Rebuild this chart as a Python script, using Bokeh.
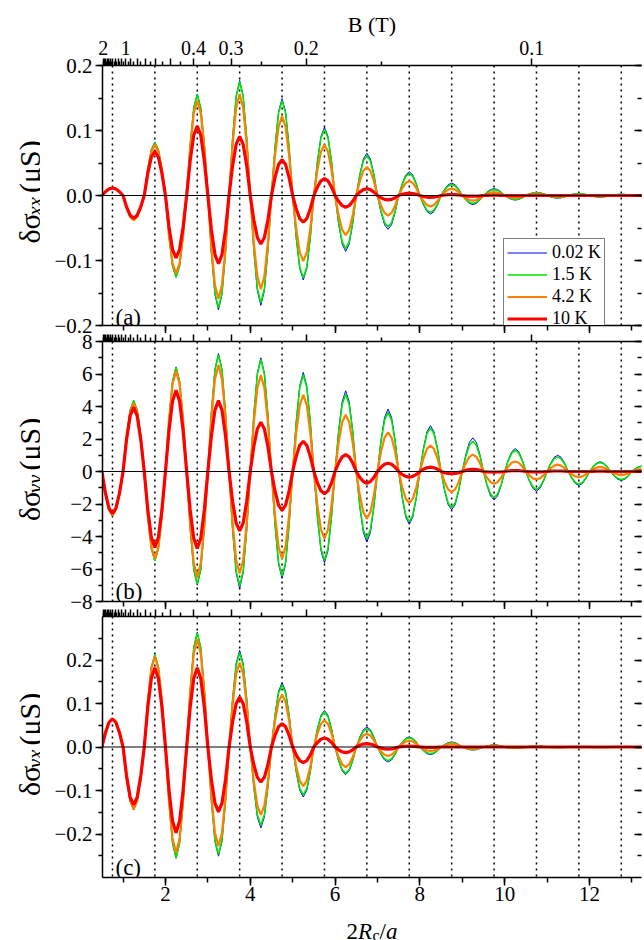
import numpy as np
from bokeh.plotting import figure
from bokeh.models import (Range1d, LinearAxis, SingleIntervalTicker, FixedTicker,
                          CustomJSTickFormatter, CustomLabelingPolicy, Span, Label,
                          Legend, LegendItem, Grid)
from bokeh.layouts import column, row
from bokeh.embed import file_html
from bokeh.resources import INLINE

FONT = "Liberation Serif"

# ---------------- data ----------------
x_grid = [0.5,
 0.583, 0.667, 0.75, 0.833, 0.917, 1.0,
 1.083, 1.167, 1.25, 1.333, 1.417, 1.5,
 1.583, 1.667, 1.75, 1.833, 1.917, 2.0,
 2.083, 2.167, 2.25, 2.333, 2.417, 2.5,
 2.583, 2.667, 2.75, 2.833, 2.917, 3.0,
 3.083, 3.167, 3.25, 3.333, 3.417, 3.5,
 3.583, 3.667, 3.75, 3.833, 3.917, 4.0,
 4.083, 4.167, 4.25, 4.333, 4.417, 4.5,
 4.583, 4.667, 4.75, 4.833, 4.917, 5.0,
 5.083, 5.167, 5.25, 5.333, 5.417, 5.5,
 5.583, 5.667, 5.75, 5.833, 5.917, 6.0,
 6.083, 6.167, 6.25, 6.333, 6.417, 6.5,
 6.583, 6.667, 6.75, 6.833, 6.917, 7.0,
 7.083, 7.167, 7.25, 7.333, 7.417, 7.5,
 7.583, 7.667, 7.75, 7.833, 7.917, 8.0,
 8.083, 8.167, 8.25, 8.333, 8.417, 8.5,
 8.583, 8.667, 8.75, 8.833, 8.917, 9.0,
 9.083, 9.167, 9.25, 9.333, 9.417, 9.5,
 9.583, 9.667, 9.75, 9.833, 9.917, 10.0,
 10.083, 10.167, 10.25, 10.333, 10.417, 10.5,
 10.583, 10.667, 10.75, 10.833, 10.917, 11.0,
 11.083, 11.167, 11.25, 11.333, 11.417, 11.5,
 11.583, 11.667, 11.75, 11.833, 11.917, 12.0,
 12.083, 12.167, 12.25, 12.333, 12.417, 12.5,
 12.583, 12.667, 12.75, 12.833, 12.917, 13.0,
 13.083, 13.167, 13.25]

temps = ["0.02 K", "1.5 K", "4.2 K", "10 K"]

# panel (a): delta sigma_xx (uS)
sxx_002 = [0.0,
 0.0055, 0.0095, 0.011, 0.0095, 0.0055, 0.0,
 -0.0185, -0.032, -0.037, -0.032, -0.0185, 0.0,
 0.041, 0.071, 0.082, 0.071, 0.041, 0.0,
 -0.063, -0.1091, -0.126, -0.1091, -0.063, 0.0,
 0.078, 0.1351, 0.156, 0.1351, 0.078, 0.0,
 -0.088, -0.1524, -0.176, -0.1524, -0.088, 0.0,
 0.0885, 0.1533, 0.177, 0.1533, 0.0885, 0.0,
 -0.0845, -0.1464, -0.169, -0.1464, -0.0845, 0.0,
 0.0745, 0.129, 0.149, 0.129, 0.0745, 0.0,
 -0.065, -0.1126, -0.130, -0.1126, -0.065, 0.0,
 0.0525, 0.0909, 0.105, 0.0909, 0.0525, 0.0,
 -0.043, -0.0745, -0.086, -0.0745, -0.043, 0.0,
 0.0325, 0.0563, 0.065, 0.0563, 0.0325, 0.0,
 -0.026, -0.045, -0.052, -0.045, -0.026, 0.0,
 0.0183, 0.0316, 0.0365, 0.0316, 0.0183, 0.0,
 -0.0143, -0.0247, -0.0285, -0.0247, -0.0143, 0.0,
 0.0095, 0.0165, 0.019, 0.0165, 0.0095, 0.0,
 -0.007, -0.0121, -0.014, -0.0121, -0.007, 0.0,
 0.0053, 0.0091, 0.0105, 0.0091, 0.0053, 0.0,
 -0.0035, -0.0061, -0.007, -0.0061, -0.0035, 0.0,
 0.0025, 0.0043, 0.005, 0.0043, 0.0025, 0.0,
 -0.002, -0.0035, -0.004, -0.0035, -0.002, 0.0,
 0.0015, 0.0026, 0.003, 0.0026, 0.0015, 0.0,
 -0.0013, -0.0022, -0.0025, -0.0022, -0.0013, 0.0,
 0.001, 0.0017, 0.002, 0.0017, 0.001, 0.0,
 -0.0008, -0.0013, -0.0015]
sxx_15 = [0.0,
 0.0058, 0.01, 0.0115, 0.01, 0.0058, 0.0,
 -0.019, -0.0329, -0.038, -0.0329, -0.019, 0.0,
 0.0405, 0.0701, 0.081, 0.0701, 0.0405, 0.0,
 -0.0625, -0.1083, -0.125, -0.1083, -0.0625, 0.0,
 0.0775, 0.1342, 0.155, 0.1342, 0.0775, 0.0,
 -0.0865, -0.1498, -0.173, -0.1498, -0.0865, 0.0,
 0.0875, 0.1516, 0.175, 0.1516, 0.0875, 0.0,
 -0.0825, -0.1429, -0.165, -0.1429, -0.0825, 0.0,
 0.073, 0.1264, 0.146, 0.1264, 0.073, 0.0,
 -0.0635, -0.11, -0.127, -0.11, -0.0635, 0.0,
 0.051, 0.0883, 0.102, 0.0883, 0.051, 0.0,
 -0.041, -0.071, -0.082, -0.071, -0.041, 0.0,
 0.0308, 0.0533, 0.0615, 0.0533, 0.0308, 0.0,
 -0.024, -0.0416, -0.048, -0.0416, -0.024, 0.0,
 0.017, 0.0294, 0.034, 0.0294, 0.017, 0.0,
 -0.013, -0.0225, -0.026, -0.0225, -0.013, 0.0,
 0.0085, 0.0147, 0.017, 0.0147, 0.0085, 0.0,
 -0.006, -0.0104, -0.012, -0.0104, -0.006, 0.0,
 0.0045, 0.0078, 0.009, 0.0078, 0.0045, 0.0,
 -0.003, -0.0052, -0.006, -0.0052, -0.003, 0.0,
 0.0023, 0.0039, 0.0045, 0.0039, 0.0023, 0.0,
 -0.0018, -0.003, -0.0035, -0.003, -0.0018, 0.0,
 0.0013, 0.0022, 0.0025, 0.0022, 0.0013, 0.0,
 -0.001, -0.0017, -0.002, -0.0017, -0.001, 0.0,
 0.0008, 0.0013, 0.0015, 0.0013, 0.0008, 0.0,
 -0.0005, -0.0009, -0.001]
sxx_42 = [0.0,
 0.0058, 0.01, 0.0115, 0.01, 0.0058, 0.0,
 -0.019, -0.0329, -0.038, -0.0329, -0.019, 0.0,
 0.039, 0.0675, 0.078, 0.0675, 0.039, 0.0,
 -0.06, -0.1039, -0.120, -0.1039, -0.06, 0.0,
 0.073, 0.1264, 0.146, 0.1264, 0.073, 0.0,
 -0.0795, -0.1377, -0.159, -0.1377, -0.0795, 0.0,
 0.078, 0.1351, 0.156, 0.1351, 0.078, 0.0,
 -0.072, -0.1247, -0.144, -0.1247, -0.072, 0.0,
 0.061, 0.1057, 0.122, 0.1057, 0.061, 0.0,
 -0.0505, -0.0875, -0.101, -0.0875, -0.0505, 0.0,
 0.039, 0.0675, 0.078, 0.0675, 0.039, 0.0,
 -0.0305, -0.0528, -0.061, -0.0528, -0.0305, 0.0,
 0.022, 0.0381, 0.044, 0.0381, 0.022, 0.0,
 -0.0155, -0.0268, -0.031, -0.0268, -0.0155, 0.0,
 0.0112, 0.0194, 0.0224, 0.0194, 0.0112, 0.0,
 -0.0085, -0.0147, -0.017, -0.0147, -0.0085, 0.0,
 0.0052, 0.009, 0.0104, 0.009, 0.0052, 0.0,
 -0.004, -0.0069, -0.008, -0.0069, -0.004, 0.0,
 0.0025, 0.0043, 0.005, 0.0043, 0.0025, 0.0,
 -0.0018, -0.003, -0.0035, -0.003, -0.0018, 0.0,
 0.0013, 0.0022, 0.0025, 0.0022, 0.0013, 0.0,
 -0.0008, -0.0013, -0.0015, -0.0013, -0.0008, 0.0,
 0.0005, 0.0009, 0.001, 0.0009, 0.0005, 0.0,
 -0.0004, -0.0006, -0.0007, -0.0006, -0.0004, 0.0,
 0.0003, 0.0004, 0.0005, 0.0004, 0.0003, 0.0,
 -0.0002, -0.0003, -0.0003]
sxx_10 = [0.0,
 0.0058, 0.01, 0.0115, 0.01, 0.0058, 0.0,
 -0.0175, -0.0303, -0.035, -0.0303, -0.0175, 0.0,
 0.034, 0.0589, 0.068, 0.0589, 0.034, 0.0,
 -0.048, -0.0831, -0.096, -0.0831, -0.048, 0.0,
 0.0535, 0.0927, 0.107, 0.0927, 0.0535, 0.0,
 -0.0525, -0.0909, -0.105, -0.0909, -0.0525, 0.0,
 0.0455, 0.0788, 0.091, 0.0788, 0.0455, 0.0,
 -0.0373, -0.0645, -0.0745, -0.0645, -0.0373, 0.0,
 0.0275, 0.0476, 0.055, 0.0476, 0.0275, 0.0,
 -0.0205, -0.0355, -0.041, -0.0355, -0.0205, 0.0,
 0.013, 0.0225, 0.026, 0.0225, 0.013, 0.0,
 -0.009, -0.0156, -0.018, -0.0156, -0.009, 0.0,
 0.0052, 0.009, 0.0104, 0.009, 0.0052, 0.0,
 -0.0034, -0.0059, -0.0068, -0.0059, -0.0034, 0.0,
 0.0018, 0.0031, 0.0036, 0.0031, 0.0018, 0.0,
 -0.0015, -0.0026, -0.003, -0.0026, -0.0015, 0.0,
 0.0008, 0.0013, 0.0015, 0.0013, 0.0008, 0.0,
 -0.0005, -0.0009, -0.001, -0.0009, -0.0005, 0.0,
 0.0003, 0.0004, 0.0005, 0.0004, 0.0003, 0.0,
 -0.0002, -0.0003, -0.0003, -0.0003, -0.0002, 0.0,
 0.0001, 0.0002, 0.0002, 0.0002, 0.0001, 0.0,
 0.0, 0.0, 0.0, 0.0, 0.0, 0.0,
 0.0, 0.0, 0.0, 0.0, 0.0, 0.0,
 0.0, 0.0, 0.0, 0.0, 0.0, 0.0,
 0.0, 0.0, 0.0, 0.0, 0.0, 0.0,
 0.0, 0.0, 0.0]

# panel (b): delta sigma_yy (uS)
syy_002 = [0.0,
 -1.35, -2.34, -2.7, -2.34, -1.35, 0.0,
 2.18, 3.78, 4.36, 3.78, 2.18, 0.0,
 -2.75, -4.76, -5.5, -4.76, -2.75, 0.0,
 3.22, 5.58, 6.44, 5.58, 3.22, 0.0,
 -3.5, -6.06, -7.0, -6.06, -3.5, 0.0,
 3.63, 6.29, 7.26, 6.29, 3.63, 0.0,
 -3.6, -6.24, -7.2, -6.24, -3.6, 0.0,
 3.5, 6.06, 7.0, 6.06, 3.5, 0.0,
 -3.29, -5.7, -6.58, -5.7, -3.29, 0.0,
 3.05, 5.28, 6.1, 5.28, 3.05, 0.0,
 -2.81, -4.87, -5.62, -4.87, -2.81, 0.0,
 2.49, 4.3, 4.97, 4.3, 2.49, 0.0,
 -2.17, -3.76, -4.34, -3.76, -2.17, 0.0,
 1.92, 3.33, 3.84, 3.33, 1.92, 0.0,
 -1.63, -2.81, -3.25, -2.81, -1.63, 0.0,
 1.41, 2.44, 2.82, 2.44, 1.41, 0.0,
 -1.18, -2.04, -2.35, -2.04, -1.18, 0.0,
 1.04, 1.79, 2.07, 1.79, 1.04, 0.0,
 -0.87, -1.51, -1.74, -1.51, -0.87, 0.0,
 0.71, 1.22, 1.41, 1.22, 0.71, 0.0,
 -0.6, -1.04, -1.2, -1.04, -0.6, 0.0,
 0.5, 0.87, 1.0, 0.87, 0.5, 0.0,
 -0.43, -0.74, -0.85, -0.74, -0.43, 0.0,
 0.3, 0.52, 0.6, 0.52, 0.3, 0.0,
 -0.28, -0.48, -0.55, -0.48, -0.28, 0.0,
 0.18, 0.3, 0.35]
syy_15 = [0.0,
 -1.35, -2.34, -2.7, -2.34, -1.35, 0.0,
 2.18, 3.78, 4.36, 3.78, 2.18, 0.0,
 -2.75, -4.76, -5.5, -4.76, -2.75, 0.0,
 3.2, 5.54, 6.4, 5.54, 3.2, 0.0,
 -3.47, -6.0, -6.93, -6.0, -3.47, 0.0,
 3.59, 6.22, 7.18, 6.22, 3.59, 0.0,
 -3.53, -6.11, -7.05, -6.11, -3.53, 0.0,
 3.45, 5.98, 6.9, 5.98, 3.45, 0.0,
 -3.22, -5.58, -6.44, -5.58, -3.22, 0.0,
 2.98, 5.15, 5.95, 5.15, 2.98, 0.0,
 -2.73, -4.73, -5.46, -4.73, -2.73, 0.0,
 2.38, 4.12, 4.76, 4.12, 2.38, 0.0,
 -2.07, -3.58, -4.13, -3.58, -2.07, 0.0,
 1.82, 3.15, 3.64, 3.15, 1.82, 0.0,
 -1.55, -2.68, -3.1, -2.68, -1.55, 0.0,
 1.34, 2.32, 2.68, 2.32, 1.34, 0.0,
 -1.12, -1.93, -2.23, -1.93, -1.12, 0.0,
 0.93, 1.61, 1.86, 1.61, 0.93, 0.0,
 -0.8, -1.39, -1.6, -1.39, -0.8, 0.0,
 0.65, 1.13, 1.3, 1.13, 0.65, 0.0,
 -0.55, -0.95, -1.1, -0.95, -0.55, 0.0,
 0.45, 0.78, 0.9, 0.78, 0.45, 0.0,
 -0.39, -0.68, -0.78, -0.68, -0.39, 0.0,
 0.28, 0.48, 0.55, 0.48, 0.28, 0.0,
 -0.25, -0.43, -0.5, -0.43, -0.25, 0.0,
 0.16, 0.28, 0.32]
syy_42 = [0.0,
 -1.35, -2.34, -2.7, -2.34, -1.35, 0.0,
 2.1, 3.64, 4.2, 3.64, 2.1, 0.0,
 -2.68, -4.64, -5.36, -4.64, -2.68, 0.0,
 3.1, 5.37, 6.2, 5.37, 3.1, 0.0,
 -3.25, -5.63, -6.5, -5.63, -3.25, 0.0,
 3.28, 5.68, 6.56, 5.68, 3.28, 0.0,
 -3.14, -5.44, -6.28, -5.44, -3.14, 0.0,
 2.97, 5.14, 5.93, 5.14, 2.97, 0.0,
 -2.68, -4.64, -5.36, -4.64, -2.68, 0.0,
 2.36, 4.09, 4.72, 4.09, 2.36, 0.0,
 -2.07, -3.58, -4.13, -3.58, -2.07, 0.0,
 1.75, 3.03, 3.5, 3.03, 1.75, 0.0,
 -1.45, -2.51, -2.9, -2.51, -1.45, 0.0,
 1.21, 2.09, 2.41, 2.09, 1.21, 0.0,
 -0.97, -1.68, -1.94, -1.68, -0.97, 0.0,
 0.8, 1.39, 1.6, 1.39, 0.8, 0.0,
 -0.64, -1.1, -1.27, -1.1, -0.64, 0.0,
 0.52, 0.9, 1.04, 0.9, 0.52, 0.0,
 -0.38, -0.66, -0.76, -0.66, -0.38, 0.0,
 0.31, 0.54, 0.62, 0.54, 0.31, 0.0,
 -0.24, -0.42, -0.48, -0.42, -0.24, 0.0,
 0.21, 0.36, 0.42, 0.36, 0.21, 0.0,
 -0.18, -0.3, -0.35, -0.3, -0.18, 0.0,
 0.14, 0.24, 0.28, 0.24, 0.14, 0.0,
 -0.11, -0.19, -0.22, -0.19, -0.11, 0.0,
 0.08, 0.13, 0.15]
syy_10 = [0.0,
 -1.3, -2.25, -2.6, -2.25, -1.3, 0.0,
 1.98, 3.42, 3.95, 3.42, 1.98, 0.0,
 -2.34, -4.05, -4.68, -4.05, -2.34, 0.0,
 2.5, 4.33, 5.0, 4.33, 2.5, 0.0,
 -2.37, -4.1, -4.74, -4.1, -2.37, 0.0,
 2.18, 3.78, 4.36, 3.78, 2.18, 0.0,
 -1.83, -3.17, -3.66, -3.17, -1.83, 0.0,
 1.52, 2.62, 3.03, 2.62, 1.52, 0.0,
 -1.2, -2.07, -2.39, -2.07, -1.2, 0.0,
 0.93, 1.61, 1.86, 1.61, 0.93, 0.0,
 -0.69, -1.19, -1.37, -1.19, -0.69, 0.0,
 0.52, 0.9, 1.04, 0.9, 0.52, 0.0,
 -0.36, -0.62, -0.72, -0.62, -0.36, 0.0,
 0.26, 0.44, 0.51, 0.44, 0.26, 0.0,
 -0.18, -0.3, -0.35, -0.3, -0.18, 0.0,
 0.14, 0.23, 0.27, 0.23, 0.14, 0.0,
 -0.07, -0.12, -0.14, -0.12, -0.07, 0.0,
 0.07, 0.12, 0.14, 0.12, 0.07, 0.0,
 -0.02, -0.03, -0.04, -0.03, -0.02, 0.0,
 0.03, 0.05, 0.06, 0.05, 0.03, 0.0,
 -0.01, -0.02, -0.02, -0.02, -0.01, 0.0,
 0.02, 0.03, 0.03, 0.03, 0.02, 0.0,
 0.0, 0.0, 0.0, 0.0, 0.0, 0.0,
 0.01, 0.02, 0.02, 0.02, 0.01, 0.0,
 0.0, 0.0, 0.0, 0.0, 0.0, 0.0,
 0.01, 0.01, 0.01]

# panel (c): delta sigma_yx (uS)
syx_002 = [0.0,
 0.0325, 0.0563, 0.065, 0.0563, 0.0325, 0.0,
 -0.0725, -0.1256, -0.145, -0.1256, -0.0725, 0.0,
 0.106, 0.1836, 0.212, 0.1836, 0.106, 0.0,
 -0.128, -0.2217, -0.256, -0.2217, -0.128, 0.0,
 0.132, 0.2286, 0.264, 0.2286, 0.132, 0.0,
 -0.1255, -0.2174, -0.251, -0.2174, -0.1255, 0.0,
 0.111, 0.1923, 0.222, 0.1923, 0.111, 0.0,
 -0.093, -0.1611, -0.186, -0.1611, -0.093, 0.0,
 0.074, 0.1282, 0.148, 0.1282, 0.074, 0.0,
 -0.0575, -0.0996, -0.115, -0.0996, -0.0575, 0.0,
 0.042, 0.0727, 0.084, 0.0727, 0.042, 0.0,
 -0.0318, -0.0551, -0.0636, -0.0551, -0.0318, 0.0,
 0.023, 0.0398, 0.046, 0.0398, 0.023, 0.0,
 -0.0173, -0.0299, -0.0345, -0.0299, -0.0173, 0.0,
 0.0115, 0.0199, 0.023, 0.0199, 0.0115, 0.0,
 -0.0088, -0.0152, -0.0176, -0.0152, -0.0088, 0.0,
 0.0058, 0.01, 0.0115, 0.01, 0.0058, 0.0,
 -0.0035, -0.0061, -0.007, -0.0061, -0.0035, 0.0,
 0.0025, 0.0043, 0.005, 0.0043, 0.0025, 0.0,
 -0.0018, -0.003, -0.0035, -0.003, -0.0018, 0.0,
 0.0013, 0.0022, 0.0025, 0.0022, 0.0013, 0.0,
 -0.0008, -0.0013, -0.0015, -0.0013, -0.0008, 0.0,
 0.0005, 0.0009, 0.001, 0.0009, 0.0005, 0.0,
 -0.0004, -0.0006, -0.0007, -0.0006, -0.0004, 0.0,
 0.0003, 0.0004, 0.0005, 0.0004, 0.0003, 0.0,
 -0.0002, -0.0003, -0.0003]
syx_15 = [0.0,
 0.0325, 0.0563, 0.065, 0.0563, 0.0325, 0.0,
 -0.0715, -0.1238, -0.143, -0.1238, -0.0715, 0.0,
 0.106, 0.1836, 0.212, 0.1836, 0.106, 0.0,
 -0.1275, -0.2208, -0.255, -0.2208, -0.1275, 0.0,
 0.131, 0.2269, 0.262, 0.2269, 0.131, 0.0,
 -0.1235, -0.2139, -0.247, -0.2139, -0.1235, 0.0,
 0.1085, 0.1879, 0.217, 0.1879, 0.1085, 0.0,
 -0.09, -0.1559, -0.18, -0.1559, -0.09, 0.0,
 0.0715, 0.1238, 0.143, 0.1238, 0.0715, 0.0,
 -0.055, -0.0953, -0.11, -0.0953, -0.055, 0.0,
 0.0403, 0.0697, 0.0805, 0.0697, 0.0403, 0.0,
 -0.0303, -0.0524, -0.0605, -0.0524, -0.0303, 0.0,
 0.021, 0.0364, 0.042, 0.0364, 0.021, 0.0,
 -0.0157, -0.0272, -0.0314, -0.0272, -0.0157, 0.0,
 0.0105, 0.0182, 0.021, 0.0182, 0.0105, 0.0,
 -0.0077, -0.0132, -0.0153, -0.0132, -0.0077, 0.0,
 0.005, 0.0087, 0.01, 0.0087, 0.005, 0.0,
 -0.003, -0.0052, -0.006, -0.0052, -0.003, 0.0,
 0.002, 0.0035, 0.004, 0.0035, 0.002, 0.0,
 -0.0015, -0.0026, -0.003, -0.0026, -0.0015, 0.0,
 0.001, 0.0017, 0.002, 0.0017, 0.001, 0.0,
 -0.0005, -0.0009, -0.001, -0.0009, -0.0005, 0.0,
 0.0004, 0.0006, 0.0007, 0.0006, 0.0004, 0.0,
 -0.0003, -0.0004, -0.0005, -0.0004, -0.0003, 0.0,
 0.0002, 0.0003, 0.0003, 0.0003, 0.0002, 0.0,
 -0.0001, -0.0002, -0.0002]
syx_42 = [0.0,
 0.0325, 0.0563, 0.065, 0.0563, 0.0325, 0.0,
 -0.0715, -0.1238, -0.143, -0.1238, -0.0715, 0.0,
 0.104, 0.1801, 0.208, 0.1801, 0.104, 0.0,
 -0.1215, -0.2104, -0.243, -0.2104, -0.1215, 0.0,
 0.1238, 0.2143, 0.2475, 0.2143, 0.1238, 0.0,
 -0.1138, -0.197, -0.2275, -0.197, -0.1138, 0.0,
 0.097, 0.168, 0.194, 0.168, 0.097, 0.0,
 -0.078, -0.1351, -0.156, -0.1351, -0.078, 0.0,
 0.06, 0.1039, 0.12, 0.1039, 0.06, 0.0,
 -0.0449, -0.0777, -0.0897, -0.0777, -0.0449, 0.0,
 0.0307, 0.0531, 0.0613, 0.0531, 0.0307, 0.0,
 -0.023, -0.0398, -0.046, -0.0398, -0.023, 0.0,
 0.0153, 0.0265, 0.0306, 0.0265, 0.0153, 0.0,
 -0.0104, -0.0179, -0.0207, -0.0179, -0.0104, 0.0,
 0.0073, 0.0126, 0.0146, 0.0126, 0.0073, 0.0,
 -0.0046, -0.008, -0.0092, -0.008, -0.0046, 0.0,
 0.0035, 0.0061, 0.007, 0.0061, 0.0035, 0.0,
 -0.002, -0.0035, -0.004, -0.0035, -0.002, 0.0,
 0.0013, 0.0022, 0.0025, 0.0022, 0.0013, 0.0,
 -0.0008, -0.0013, -0.0015, -0.0013, -0.0008, 0.0,
 0.0005, 0.0009, 0.001, 0.0009, 0.0005, 0.0,
 -0.0003, -0.0004, -0.0005, -0.0004, -0.0003, 0.0,
 0.0002, 0.0003, 0.0003, 0.0003, 0.0002, 0.0,
 -0.0001, -0.0002, -0.0002, -0.0002, -0.0001, 0.0,
 0.0001, 0.0001, 0.0001, 0.0001, 0.0001, 0.0,
 0.0, 0.0, 0.0]
syx_10 = [0.0,
 0.0325, 0.0563, 0.065, 0.0563, 0.0325, 0.0,
 -0.0665, -0.1152, -0.133, -0.1152, -0.0665, 0.0,
 0.091, 0.1576, 0.182, 0.1576, 0.091, 0.0,
 -0.0985, -0.1706, -0.197, -0.1706, -0.0985, 0.0,
 0.091, 0.1576, 0.182, 0.1576, 0.091, 0.0,
 -0.0745, -0.129, -0.149, -0.129, -0.0745, 0.0,
 0.0575, 0.0996, 0.115, 0.0996, 0.0575, 0.0,
 -0.0403, -0.0697, -0.0805, -0.0697, -0.0403, 0.0,
 0.0268, 0.0464, 0.0536, 0.0464, 0.0268, 0.0,
 -0.018, -0.0312, -0.036, -0.0312, -0.018, 0.0,
 0.0104, 0.0179, 0.0207, 0.0179, 0.0104, 0.0,
 -0.0065, -0.0113, -0.013, -0.0113, -0.0065, 0.0,
 0.0039, 0.0067, 0.0077, 0.0067, 0.0039, 0.0,
 -0.0025, -0.0043, -0.005, -0.0043, -0.0025, 0.0,
 0.001, 0.0017, 0.002, 0.0017, 0.001, 0.0,
 -0.0005, -0.0009, -0.001, -0.0009, -0.0005, 0.0,
 0.0, 0.0, 0.0, 0.0, 0.0, 0.0,
 0.0, 0.0, 0.0, 0.0, 0.0, 0.0,
 0.0, 0.0, 0.0, 0.0, 0.0, 0.0,
 0.0, 0.0, 0.0, 0.0, 0.0, 0.0,
 0.0, 0.0, 0.0, 0.0, 0.0, 0.0,
 0.0, 0.0, 0.0, 0.0, 0.0, 0.0,
 0.0, 0.0, 0.0, 0.0, 0.0, 0.0,
 0.0, 0.0, 0.0, 0.0, 0.0, 0.0,
 0.0, 0.0, 0.0, 0.0, 0.0, 0.0,
 0.0, 0.0, 0.0]

dotted_x = [0.75, 1.75, 2.75, 3.75, 4.75, 5.75, 6.75, 7.75, 8.75, 9.75, 10.75, 11.75, 12.75]

# top axis: magnetic field B (T); B * (2Rc/a) = const
B_CONST = 1.064
B_major = [0.1, 0.2, 0.3, 0.4, 0.5, 0.6, 0.7, 0.8, 0.9, 1.0,
           1.1, 1.2, 1.3, 1.4, 1.5, 1.6, 1.7, 1.8, 1.9, 2.0]
B_minor = [0.15, 0.25, 0.35, 0.45, 0.55, 0.65, 0.75, 0.85, 0.95, 1.05,
           1.15, 1.25, 1.35, 1.45, 1.55, 1.65, 1.75, 1.85, 1.95]
B_labels = [2, 1, 0.4, 0.3, 0.2, 0.1]

colors = ["#0000ff", "#00e600", "#ff8000", "#ff0000"]
widths = [1.0, 1.6, 2.2, 3.2]

# ---------------- layout constants (page px) ----------------
XS, XE = 0.515, 13.227
LW = 40            # left strip with the rotated y titles
W = 644 - LW       # main figures
BL, BR = 62, 3     # frame from x=102 to x=641
HA, HB, HC = 333, 276, 301
BOT_H = 940 - (HA + HB + HC)

xr = Range1d(XS, XE)


def no_grid(p):
    for r in list(p.center):
        if isinstance(r, Grid):
            r.visible = False


def make_fig(h, top, bottom, lo, hi):
    p = figure(width=W, height=h, x_range=xr, y_range=Range1d(lo, hi),
               output_backend="svg", toolbar_location=None,
               x_axis_location=None, y_axis_location=None,
               min_border_left=BL, min_border_right=BR,
               min_border_top=top, min_border_bottom=bottom)
    p.outline_line_color = None
    p.background_fill_color = "white"
    p.border_fill_color = "white"
    no_grid(p)
    return p


def text_fig(w, h):
    f = figure(width=w, height=h, x_range=Range1d(0, w), y_range=Range1d(0, h),
               output_backend="svg", toolbar_location=None,
               x_axis_location=None, y_axis_location=None,
               min_border=0, min_border_left=0, min_border_right=0,
               min_border_top=0, min_border_bottom=0)
    f.outline_line_color = None
    f.background_fill_color = "white"
    f.border_fill_color = "white"
    no_grid(f)
    return f


def hide_labels(ax):
    ax.formatter = CustomJSTickFormatter(code='return ""')
    ax.major_label_policy = CustomLabelingPolicy(
        code="for (const i of indices) { indices.unset(i) }\nreturn indices")
    ax.major_label_text_font_size = "1px"
    ax.major_label_standoff = 0


def style(ax, size="21px"):
    ax.axis_line_width = 1.5
    ax.axis_line_color = "black"
    ax.major_tick_line_width = 1.5
    ax.minor_tick_line_width = 1.5
    ax.major_tick_line_color = "black"
    ax.minor_tick_line_color = "black"
    ax.major_label_text_font = FONT
    ax.major_label_text_color = "black"
    ax.major_label_text_font_size = size


def yfmt(d):
    return CustomJSTickFormatter(args=dict(d=d), code="""
        const a = Math.abs(tick).toFixed(d);
        return (tick < -1e-9 ? "\u2212" : "") + a;
    """)


def add_axes(p, yint, dec, xlabels, blabels):
    left = LinearAxis(ticker=SingleIntervalTicker(interval=yint, num_minor_ticks=2),
                      formatter=yfmt(dec))
    style(left)
    left.major_tick_out = 7; left.major_tick_in = 0
    left.minor_tick_out = 4; left.minor_tick_in = 0
    left.major_label_standoff = 3
    p.add_layout(left, "left")

    right = LinearAxis(ticker=SingleIntervalTicker(interval=yint, num_minor_ticks=2))
    style(right)
    hide_labels(right)
    right.axis_line_color = None
    right.major_tick_out = 0; right.major_tick_in = 7
    right.minor_tick_out = 0; right.minor_tick_in = 4
    p.add_layout(right, "right")

    bot = LinearAxis(ticker=SingleIntervalTicker(interval=2, num_minor_ticks=2))
    style(bot)
    bot.major_tick_out = 8; bot.major_tick_in = 0
    bot.minor_tick_out = 5; bot.minor_tick_in = 0
    if xlabels:
        bot.major_label_standoff = 1
    else:
        hide_labels(bot)
    p.add_layout(bot, "below")

    top = LinearAxis(ticker=FixedTicker(ticks=[B_CONST / b for b in B_major],
                                        minor_ticks=[B_CONST / b for b in B_minor]))
    style(top, "20px")
    top.major_tick_out = 7; top.major_tick_in = 0
    top.minor_tick_out = 4; top.minor_tick_in = 0
    if blabels:
        top.formatter = CustomJSTickFormatter(args=dict(k=B_CONST, labs=B_labels), code="""
            const b = k / tick;
            for (const v of labs) { if (Math.abs(b - v) < 1e-6) return String(v); }
            return "";
        """)
        top.major_label_standoff = 4
        top.axis_label = "B (T)"
        top.axis_label_text_font = FONT
        top.axis_label_text_font_size = "22px"
        top.axis_label_text_font_style = "normal"
        top.axis_label_text_color = "black"
        top.axis_label_standoff = 1
    else:
        hide_labels(top)
    p.add_layout(top, "above")


def decorate(p):
    for xv in dotted_x:
        p.add_layout(Span(location=xv, dimension="height", line_color="black",
                          line_width=1.5, line_dash="2 4", level="underlay"))


def curves(p, series):
    rs = []
    for ys, c, w in zip(series, colors, widths):
        n = min(len(x_grid), len(ys))
        rs.append(p.line(x_grid[:n], ys[:n], line_color=c, line_width=w))
    p.add_layout(Span(location=0, dimension="width", line_color="black", line_width=1.2))
    return rs


def lab(p, x, y, text, size, italic=False, angle=0.0):
    p.add_layout(Label(x=x, y=y, text=text, angle=angle, text_font=FONT,
                       text_font_size=f"{size}px",
                       text_font_style="italic" if italic else "normal",
                       text_align="left", text_baseline="alphabetic",
                       text_color="black"))


def frame_x(px):
    return XS + (px - (LW + BL)) * (XE - XS) / (W - BL - BR)


def yconv_factory(top_px, h_px, lo, hi):
    return lambda py: hi - (py - top_px) * (hi - lo) / h_px


# ---------------- panel (a) ----------------
pa = make_fig(HA, 65, 8, -0.2, 0.2)
decorate(pa)
ra = curves(pa, [sxx_002, sxx_15, sxx_42, sxx_10])
add_axes(pa, 0.1, 1, False, True)
ya = yconv_factory(65, 260, -0.2, 0.2)
lab(pa, frame_x(115), ya(317), "(a)", 23)
legend = Legend(items=[LegendItem(label=t, renderers=[r]) for t, r in zip(temps, ra)],
                location=(401, -8))
legend.label_text_font = FONT
legend.label_text_font_size = "18px"
legend.label_text_color = "black"
legend.glyph_width = 40
legend.glyph_height = 17
legend.label_height = 17
legend.label_standoff = 5
legend.spacing = 1
legend.padding = 3
legend.margin = 0
legend.border_line_color = "black"
legend.border_line_width = 1
legend.background_fill_color = "white"
legend.background_fill_alpha = 1.0
pa.add_layout(legend, "center")

# ---------------- panel (b) ----------------
pb = make_fig(HB, 8, 7, -8, 8)
decorate(pb)
curves(pb, [syy_002, syy_15, syy_42, syy_10])
add_axes(pb, 2, 0, False, False)
yb = yconv_factory(341, 261, -8, 8)
lab(pb, frame_x(115), yb(592), "(b)", 23)

# ---------------- panel (c) ----------------
pc = make_fig(HC, 7, HC - 7 - 261, -0.3, 0.3)
decorate(pc)
curves(pc, [syx_002, syx_15, syx_42, syx_10])
add_axes(pc, 0.1, 1, True, False)
yc = yconv_factory(616, 261, -0.3, 0.3)
lab(pc, frame_x(115), yc(867), "(c)", 23)

# ---------------- titles ----------------
# bottom: 2Rc/a
bt = text_fig(644, BOT_H)
by = 940 - 931
lab(bt, 346, by, "2", 23)
lab(bt, 357.5, by, "R", 23, italic=True)
lab(bt, 372.0, by - 4, "c", 16)
lab(bt, 379.0, by, "/", 23)
lab(bt, 385.5, by, "a", 23, italic=True)

# left: rotated y titles
LH = HA + HB + HC
lt = text_fig(LW, LH)
page_bottom = LH


def ytitle(cy, sub):
    fs, ss = 30, 21
    w1, w2, gap, w3 = 0.924 * fs, 0.78 * ss, 6.5, 1.585 * fs
    L = w1 + w2 + gap + w3
    fy0 = page_bottom - (cy + L / 2)
    base = 29
    lab(lt, base, fy0, "δσ", fs, angle=np.pi / 2)
    lab(lt, base + 5, fy0 + w1, sub, ss, italic=True, angle=np.pi / 2)
    lab(lt, base, fy0 + w1 + w2 + gap, "(μS)", fs, angle=np.pi / 2)


ytitle(194, "xx")
ytitle(471.5, "yy")
ytitle(746.5, "yx")

layout = column(row(lt, column(pa, pb, pc, spacing=0), spacing=0), bt, spacing=0)
open("out.html", "w").write(file_html(layout, INLINE))
